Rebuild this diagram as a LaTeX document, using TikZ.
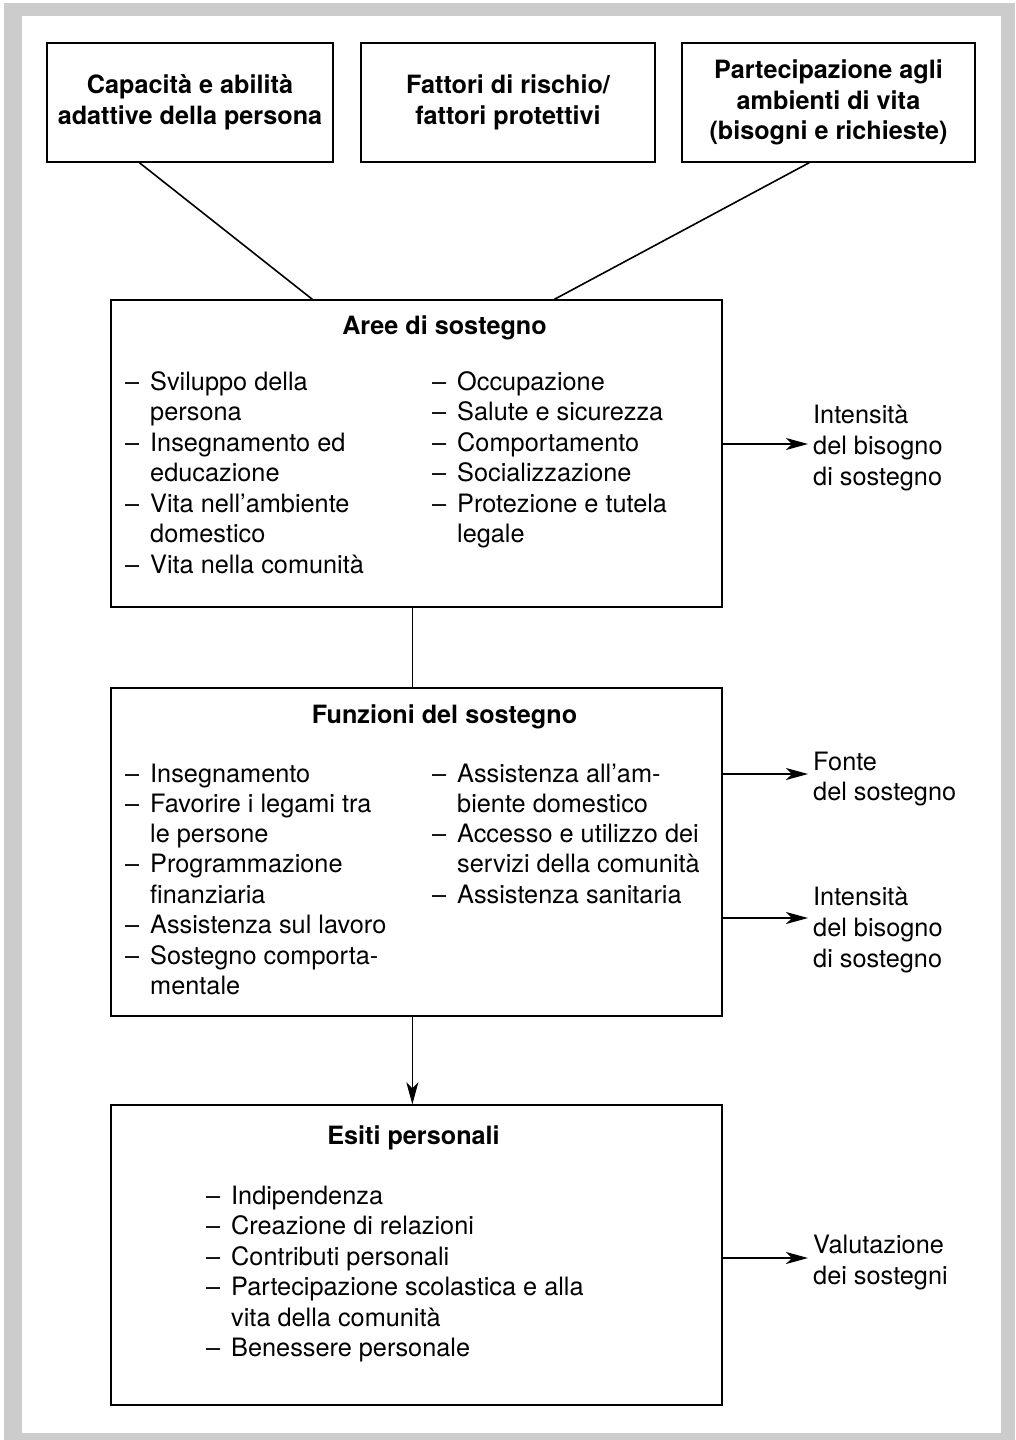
\documentclass[tikz,border=0pt]{standalone}
\usepackage{fontspec}
\setmainfont{TeX Gyre Heros}
\usetikzlibrary{arrows.meta,calc}
\definecolor{framegrey}{HTML}{CCCCCC}
\tikzset{
  box/.style={draw=black, line width=1.3pt, inner sep=0pt, fill=white},
  tbox/.style={box, align=center, font=\bfseries\fontsize{25.2}{30.5}\selectfont},
  txt/.style={inner sep=0pt, anchor=base west, font=\fontsize{25.3}{30.5}\selectfont},
  ttl/.style={inner sep=0pt, anchor=base, font=\bfseries\fontsize{25.2}{30.5}\selectfont},
  conn/.style={line width=1.6pt},
  arr/.style={line width=1.3pt, -{Stealth[length=22pt,width=12pt,inset=6pt]}},
}
\newcommand{\itm}[1]{\makebox[25pt][l]{–}#1}
\begin{document}
\begin{tikzpicture}[x=1pt,y=-1pt]
\useasboundingbox (0,0) rectangle (1015,1440);
\fill[framegrey] (4,3) rectangle (1015,1440);
\fill[white] (22,16) rectangle (1001,1433);

% top boxes
\node[tbox, minimum width=286, minimum height=119] (b1) at (190,102.5) {Capacità e abilità\\adattive della persona};
\node[tbox, minimum width=294, minimum height=119] (b2) at (508,102.5) {Fattori di rischio/\\fattori protettivi};
\node[tbox, minimum width=293, minimum height=119] (b3) at (828.5,102.5) {Partecipazione agli\\ambienti di vita\\(bisogni e richieste)};

% main boxes
\node[box, minimum width=611, minimum height=307] (aree) at (416.5,453.5) {};
\node[box, minimum width=611, minimum height=328] (funz) at (416.5,852) {};
\node[box, minimum width=611, minimum height=300] (esiti) at (416.5,1255) {};

% connectors
\draw[conn] ($(b1.south west)+(93,0)$) -- ($(aree.north west)+(202,0)$);
\draw[conn] ($(b3.south west)+(128,0)$) -- ($(aree.north west)+(444,0)$);
\draw[line width=1.3pt] ($(aree.south west)+(302,0)$) -- ($(funz.north west)+(302,0)$);
\draw[arr] ($(funz.south west)+(302,0)$) -- ($(esiti.north west)+(302,0)$);

% Aree di sostegno
\node[ttl] (t1) at (444.5,334) {Aree di sostegno};
\node[txt] (a1) at (125,390) {\itm{Sviluppo della}};
\node[txt] (a2) at (150,420.5) {persona};
\node[txt] (a3) at (125,451) {\itm{Insegnamento ed}};
\node[txt] (a4) at (150,481.5) {educazione};
\node[txt] (a5) at (125,512) {\itm{Vita nell’ambiente}};
\node[txt] (a6) at (150,542.5) {domestico};
\node[txt] (a7) at (125,573) {\itm{Vita nella comunità}};
\node[txt] (a8) at (432,390) {\itm{Occupazione}};
\node[txt] (a9) at (432,420.5) {\itm{Salute e sicurezza}};
\node[txt] (a10) at (432,451) {\itm{Comportamento}};
\node[txt] (a11) at (432,481.5) {\itm{Socializzazione}};
\node[txt] (a12) at (432,512) {\itm{Protezione e tutela}};
\node[txt] (a13) at (457,542.5) {legale};

% Funzioni del sostegno
\node[ttl] (t2) at (444.5,723) {Funzioni del sostegno};
\node[txt] (f1) at (125,782.5) {\itm{Insegnamento}};
\node[txt] (f2) at (125,812.5) {\itm{Favorire i legami tra}};
\node[txt] (f3) at (150,842.5) {le persone};
\node[txt] (f4) at (125,872.5) {\itm{Programmazione}};
\node[txt] (f5) at (150,903.5) {finanziaria};
\node[txt] (f6) at (125,933.5) {\itm{Assistenza sul lavoro}};
\node[txt] (f7) at (125,964.5) {\itm{Sostegno comporta-}};
\node[txt] (f8) at (150,994.5) {mentale};
\node[txt] (f9) at (432,782.5) {\itm{Assistenza all’am-}};
\node[txt] (f10) at (457,812.5) {biente domestico};
\node[txt] (f11) at (432,842.5) {\itm{Accesso e utilizzo dei}};
\node[txt] (f12) at (457,872.5) {servizi della comunità};
\node[txt] (f13) at (432,903.5) {\itm{Assistenza sanitaria}};

% Esiti personali
\node[ttl] (t3) at (413.5,1144) {Esiti personali};
\node[txt] (e1) at (206,1204.5) {\itm{Indipendenza}};
\node[txt] (e2) at (206,1234.5) {\itm{Creazione di relazioni}};
\node[txt] (e3) at (206,1265.5) {\itm{Contributi personali}};
\node[txt] (e4) at (206,1295.5) {\itm{Partecipazione scolastica e alla}};
\node[txt] (e5) at (231,1326.5) {vita della comunità};
\node[txt] (e6) at (206,1356.5) {\itm{Benessere personale}};

% right labels
\node[txt] (r1a) at (813,423.5) {Intensità};
\node[txt] (r1b) at (813,454.5) {del bisogno};
\node[txt] (r1c) at (813,485.5) {di sostegno};
\node[txt] (r2a) at (813,770.5) {Fonte};
\node[txt] (r2b) at (813,800.5) {del sostegno};
\node[txt] (r3a) at (813,905.5) {Intensità};
\node[txt] (r3b) at (813,936.5) {del bisogno};
\node[txt] (r3c) at (813,967.5) {di sostegno};
\node[txt] (r4a) at (813,1253.5) {Valutazione};
\node[txt] (r4b) at (813,1284.5) {dei sostegni};

% right arrows
\coordinate (c1) at (808,444);
\coordinate (c2) at (808,774);
\coordinate (c3) at (808,918);
\coordinate (c4) at (808,1258);
\draw[arr] (aree.east |- c1) -- (c1);
\draw[arr] (funz.east |- c2) -- (c2);
\draw[arr] (funz.east |- c3) -- (c3);
\draw[arr] (esiti.east |- c4) -- (c4);
\end{tikzpicture}
\end{document}
